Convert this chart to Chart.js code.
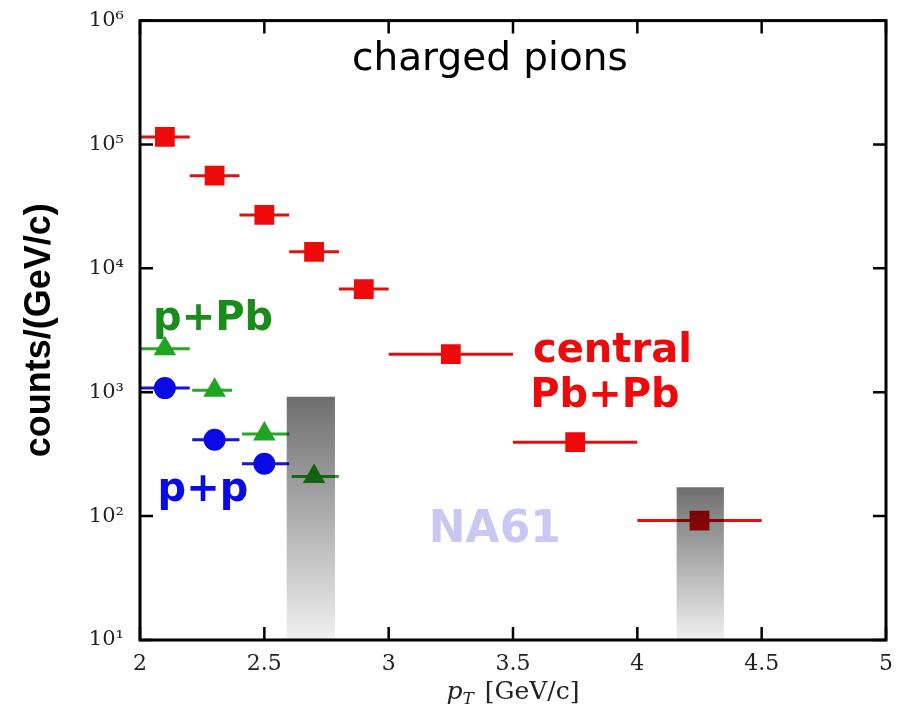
<!DOCTYPE html>
<html>
<head>
<meta charset="utf-8">
<script src="https://cdn.jsdelivr.net/npm/chart.js@4.4.1/dist/chart.umd.min.js"></script>
<style>
  html, body { margin: 0; padding: 0; background: #fff; }
  #wrap { width: 902px; height: 709px; }
</style>
</head>
<body>
<div id="wrap"><canvas id="myChart"></canvas></div>
<script>
// axis ticks
const xTicks = [2, 2.5, 3, 3.5, 4, 4.5, 5];
const yTicks = [10, 100, 1000, 10000, 100000, 1000000];
const yLabels = ['10¹', '10²', '10³', '10⁴', '10⁵', '10⁶'];

// central Pb+Pb
const pbpbX = [2.1, 2.3, 2.5, 2.7, 2.9, 3.25, 3.75, 4.25];
const pbpbY = [115000, 56000, 27000, 13600, 6800, 2030, 395, 92];
const pbpbXLo = [2.0, 2.2, 2.4, 2.6, 2.8, 3.0, 3.5, 4.0];
const pbpbXHi = [2.2, 2.4, 2.6, 2.8, 3.0, 3.5, 4.0, 4.5];

// p+Pb
const ppbX = [2.1, 2.3, 2.5, 2.7];
const ppbY = [2240, 1040, 461, 209];
const ppbXLo = [2.0, 2.21, 2.41, 2.61];
const ppbXHi = [2.2, 2.37, 2.6, 2.8];

// p+p
const ppX = [2.1, 2.3, 2.5];
const ppY = [1080, 413, 265];
const ppXLo = [2.0, 2.21, 2.41];
const ppXHi = [2.2, 2.4, 2.6];

// grey systematic bands
const bandLo = [2.59, 4.158];
const bandHi = [2.784, 4.348];
const bandTop = [920, 171];

function pts(xs, ys) {
    return xs.map((v, i) => ({ x: v, y: ys[i] }));
}

const notes = [
    { text: 'charged pions', x: 3.407, y: Math.pow(10, 5.68), color: '#000', font: '39px "DejaVu Sans"' },
    { text: 'p+Pb', x: 2.294, y: Math.pow(10, 3.59), color: '#1a8c1a', font: 'bold 40px "DejaVu Sans"' },
    { text: 'p+p', x: 2.253, y: Math.pow(10, 2.206), color: '#0a0ae6', font: 'bold 40px "DejaVu Sans"' },
    { text: 'central', x: 3.9, y: Math.pow(10, 3.331), color: '#ee0a0a', font: 'bold 40px "DejaVu Sans"' },
    { text: 'Pb+Pb', x: 3.87, y: Math.pow(10, 2.961), color: '#ee0a0a', font: 'bold 40px "DejaVu Sans"' },
    { text: 'NA61', x: 3.427, y: Math.pow(10, 1.884), color: '#c8c8f2', font: 'bold 44px "DejaVu Sans"' }
];

const extras = {
    id: 'extras',
    beforeDatasetsDraw(chart) {
        const { ctx, scales: { x, y } } = chart;
        chart.data.datasets.forEach(ds => {
            ctx.save();
            ctx.strokeStyle = ds.borderColor;
            ctx.lineWidth = 3;
            ds.data.forEach((p, i) => {
                const py = y.getPixelForValue(p.y);
                ctx.beginPath();
                ctx.moveTo(x.getPixelForValue(ds.xLo[i]), py);
                ctx.lineTo(x.getPixelForValue(ds.xHi[i]), py);
                ctx.stroke();
            });
            ctx.restore();
        });
    },
    afterDatasetsDraw(chart) {
        const { ctx, chartArea: a, scales: { x, y } } = chart;
        bandLo.forEach((lo, i) => {
            const x0 = x.getPixelForValue(lo);
            const x1 = x.getPixelForValue(bandHi[i]);
            const top = y.getPixelForValue(bandTop[i]);
            const g = ctx.createLinearGradient(0, top, 0, a.bottom);
            g.addColorStop(0, 'rgba(0,0,0,0.57)');
            g.addColorStop(1, 'rgba(0,0,0,0.06)');
            ctx.fillStyle = g;
            ctx.fillRect(x0, top, x1 - x0, a.bottom - top);
        });
    },
    afterDraw(chart) {
        const { ctx, chartArea: a, scales: { x, y } } = chart;
        ctx.save();
        // frame
        ctx.strokeStyle = '#000';
        ctx.lineWidth = 3;
        ctx.strokeRect(a.left, a.top, a.right - a.left, a.bottom - a.top);
        // inward ticks
        ctx.lineWidth = 2.5;
        xTicks.forEach(v => {
            const px = x.getPixelForValue(v);
            ctx.beginPath();
            ctx.moveTo(px, a.bottom); ctx.lineTo(px, a.bottom - 13);
            ctx.moveTo(px, a.top); ctx.lineTo(px, a.top + 13);
            ctx.stroke();
        });
        yTicks.forEach(v => {
            const py = y.getPixelForValue(v);
            ctx.beginPath();
            ctx.moveTo(a.left, py); ctx.lineTo(a.left + 13, py);
            ctx.moveTo(a.right, py); ctx.lineTo(a.right - 13, py);
            ctx.stroke();
        });
        // annotations
        ctx.textAlign = 'center';
        ctx.textBaseline = 'middle';
        notes.forEach(n => {
            ctx.font = n.font;
            ctx.fillStyle = n.color;
            ctx.fillText(n.text, x.getPixelForValue(n.x), y.getPixelForValue(n.y));
        });
        // x axis title: p_T [GeV/c]
        const cx = (a.left + a.right) / 2;
        const ty = a.bottom + 59;
        ctx.fillStyle = '#222';
        ctx.textBaseline = 'alphabetic';
        ctx.textAlign = 'left';
        ctx.font = 'italic 25px "DejaVu Serif"';
        const w1 = ctx.measureText('p').width;
        ctx.font = 'italic 17px "DejaVu Serif"';
        const w2 = ctx.measureText('T').width;
        ctx.font = '25px "DejaVu Serif"';
        const w3 = ctx.measureText(' [GeV/c]').width;
        let sx = cx - (w1 + w2 + 3 + w3) / 2;
        ctx.font = 'italic 25px "DejaVu Serif"';
        ctx.fillText('p', sx, ty);
        ctx.font = 'italic 17px "DejaVu Serif"';
        ctx.fillText('T', sx + w1, ty + 5);
        ctx.font = '25px "DejaVu Serif"';
        ctx.fillText(' [GeV/c]', sx + w1 + w2 + 3, ty);
        ctx.restore();
    }
};

const ctx = document.getElementById('myChart').getContext('2d');
const myChart = new Chart(ctx, {
    type: 'scatter',
    data: {
        datasets: [{
            label: 'central Pb+Pb',
            data: pts(pbpbX, pbpbY),
            xLo: pbpbXLo,
            xHi: pbpbXHi,
            pointStyle: 'rect',
            pointRadius: 14,
            backgroundColor: '#ee0a0a',
            borderColor: '#e01010',
            borderWidth: 0
        },
        {
            label: 'p+Pb',
            data: pts(ppbX, ppbY),
            xLo: ppbXLo,
            xHi: ppbXHi,
            pointStyle: 'triangle',
            pointRadius: 13,
            backgroundColor: '#1fa51f',
            borderColor: '#28a828',
            borderWidth: 0
        },
        {
            label: 'p+p',
            data: pts(ppX, ppY),
            xLo: ppXLo,
            xHi: ppXHi,
            pointStyle: 'circle',
            pointRadius: 11,
            backgroundColor: '#0a0ae6',
            borderColor: '#1414dc',
            borderWidth: 0
        }]
    },
    options: {
        responsive: true,
        maintainAspectRatio: false,
        animation: false,
        layout: { padding: { top: 14, right: 16, left: 0, bottom: 0 } },
        plugins: {
            legend: { display: false },
            tooltip: { enabled: false }
        },
        scales: {
            x: {
                type: 'linear',
                min: 2,
                max: 5,
                afterFit: s => { s.height = 69; },
                afterBuildTicks: s => { s.ticks = xTicks.map(v => ({ value: v })); },
                grid: { display: false },
                border: { display: false },
                ticks: {
                    padding: 3,
                    color: '#222',
                    font: { family: '"DejaVu Serif"', size: 22 },
                    callback: (v) => String(v)
                }
            },
            y: {
                type: 'logarithmic',
                min: 10,
                max: 1000000,
                afterFit: s => { s.width = 140; },
                afterBuildTicks: s => { s.ticks = yTicks.map(v => ({ value: v })); },
                grid: { display: false },
                border: { display: false },
                ticks: {
                    padding: 8,
                    color: '#222',
                    font: { family: '"DejaVu Serif"', size: 21 },
                    callback: (v) => yLabels[yTicks.indexOf(v)]
                },
                title: {
                    display: true,
                    text: 'counts/(GeV/c)',
                    color: '#000',
                    padding: { top: 18, bottom: 0 },
                    font: { family: '"Liberation Sans"', size: 36, weight: 'bold' }
                }
            }
        }
    },
    plugins: [extras]
});
</script>
</body>
</html>
